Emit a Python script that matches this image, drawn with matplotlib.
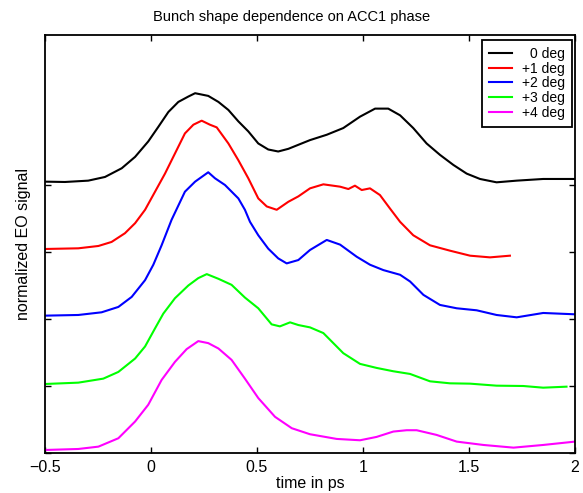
import matplotlib
matplotlib.use("Agg")
import matplotlib.pyplot as plt

plt.rcParams['font.family'] = ['Liberation Sans', 'DejaVu Sans']

labels = ["0 deg", "+1 deg", "+2 deg", "+3 deg", "+4 deg"]
colors = ["#000000", "#ff0000", "#0000ff", "#00ff00", "#ff00ff"]

x0 = [-0.5, -0.406, -0.296, -0.217, -0.138, -0.075, -0.013, 0.035, 0.082, 0.129,
      0.176, 0.208, 0.27, 0.318, 0.365, 0.412, 0.459, 0.506, 0.553, 0.60, 0.648,
      0.695, 0.75, 0.829, 0.907, 0.986, 1.057, 1.119, 1.175, 1.237, 1.30, 1.363,
      1.426, 1.489, 1.552, 1.63, 1.725, 1.85, 2.0]
y0 = [4.05, 4.045, 4.065, 4.12, 4.25, 4.42, 4.65, 4.87, 5.09, 5.24,
      5.32, 5.37, 5.33, 5.24, 5.12, 4.95, 4.80, 4.62, 4.53, 4.50, 4.54,
      4.60, 4.67, 4.75, 4.85, 5.02, 5.14, 5.14, 5.04, 4.85, 4.62, 4.45,
      4.30, 4.17, 4.09, 4.04, 4.065, 4.09, 4.09]

x1 = [-0.5, -0.343, -0.248, -0.186, -0.123, -0.075, -0.028, 0.019, 0.066, 0.113,
      0.16, 0.20, 0.239, 0.278, 0.31, 0.365, 0.412, 0.459, 0.506, 0.546, 0.593,
      0.648, 0.695, 0.75, 0.813, 0.892, 0.931, 0.962, 0.994, 1.033, 1.08, 1.127,
      1.175, 1.237, 1.316, 1.41, 1.505, 1.599, 1.693]
y1 = [3.045, 3.055, 3.09, 3.15, 3.28, 3.43, 3.63, 3.90, 4.17, 4.47,
      4.77, 4.90, 4.96, 4.90, 4.86, 4.62, 4.37, 4.10, 3.80, 3.68, 3.63,
      3.75, 3.83, 3.95, 4.01, 3.975, 3.94, 3.99, 3.925, 3.95, 3.85, 3.65,
      3.45, 3.25, 3.10, 3.02, 2.945, 2.92, 2.945]

x2 = [-0.5, -0.343, -0.233, -0.154, -0.091, -0.028, 0.011, 0.05, 0.097, 0.16,
      0.208, 0.27, 0.302, 0.349, 0.412, 0.443, 0.467, 0.506, 0.553, 0.60, 0.64,
      0.695, 0.75, 0.829, 0.892, 0.97, 1.033, 1.096, 1.175, 1.222, 1.285, 1.363,
      1.442, 1.536, 1.63, 1.725, 1.85, 2.0]
y2 = [2.05, 2.06, 2.10, 2.18, 2.33, 2.58, 2.81, 3.10, 3.48, 3.90,
      4.05, 4.19, 4.10, 4.00, 3.80, 3.63, 3.45, 3.25, 3.05, 2.905, 2.83,
      2.88, 3.03, 3.18, 3.11, 2.93, 2.81, 2.73, 2.66, 2.56, 2.36, 2.21,
      2.16, 2.13, 2.06, 2.025, 2.09, 2.07]

x3 = [-0.5, -0.343, -0.225, -0.154, -0.075, -0.028, 0.019, 0.058, 0.113, 0.176,
      0.223, 0.263, 0.318, 0.38, 0.443, 0.506, 0.569, 0.608, 0.656, 0.695, 0.75,
      0.813, 0.86, 0.907, 0.986, 1.064, 1.143, 1.222, 1.316, 1.41, 1.505, 1.63,
      1.756, 1.85, 1.96]
y3 = [1.03, 1.05, 1.11, 1.21, 1.41, 1.59, 1.86, 2.08, 2.31, 2.50,
      2.61, 2.67, 2.60, 2.51, 2.32, 2.16, 1.92, 1.89, 1.95, 1.91, 1.875,
      1.79, 1.64, 1.49, 1.33, 1.27, 1.22, 1.18, 1.07, 1.04, 1.035, 1.005,
      1.00, 0.975, 0.99]

x4 = [-0.5, -0.343, -0.248, -0.154, -0.075, -0.013, 0.05, 0.113, 0.168, 0.223,
      0.27, 0.318, 0.38, 0.443, 0.506, 0.585, 0.664, 0.75, 0.876, 0.986, 1.064,
      1.143, 1.206, 1.253, 1.347, 1.442, 1.568, 1.71, 1.85, 2.0]
y4 = [0.045, 0.06, 0.095, 0.22, 0.47, 0.72, 1.09, 1.36, 1.55, 1.67,
      1.64, 1.56, 1.39, 1.11, 0.82, 0.54, 0.37, 0.28, 0.21, 0.19, 0.24,
      0.32, 0.34, 0.34, 0.27, 0.17, 0.12, 0.08, 0.12, 0.17]

xs = [x0, x1, x2, x3, x4]
ys = [y0, y1, y2, y3, y4]

xticks = [-0.5, 0, 0.5, 1, 1.5, 2]
xticklabels = ["\u22120.5", "0", "0.5", "1", "1.5", "2"]
yticks = [0, 1, 2, 3, 4]

fig = plt.figure(figsize=(5.83, 4.93), dpi=100)
ax = fig.add_axes([45/583, 40/493, 530/583, 418/493])

for x, y, c, lab in zip(xs, ys, colors, labels):
    ax.plot(x, y, color=c, lw=1.5, label=lab)

ax.set_xlim(-0.5, 2)
ax.set_ylim(0, 418/67)
ax.set_xticks(xticks)
ax.set_xticklabels(xticklabels, fontsize=11.5)
ax.set_yticks(yticks)
ax.set_yticklabels([])
ax.tick_params(direction='in', top=True, right=True, length=4, width=1, pad=5)
for s in ax.spines.values():
    s.set_linewidth(1.3)

ax.set_xlabel("time in ps", fontsize=11.5, labelpad=1)
ax.set_ylabel("normalized EO signal", fontsize=11.5, labelpad=5)
fig.text(0.5, 1 - 17/493, "Bunch shape dependence on ACC1 phase", fontsize=10.5,
         ha='center', va='center')

leg = ax.legend(loc='upper right', fontsize=10, frameon=True, fancybox=False,
                edgecolor='black', framealpha=1, borderpad=0.5, labelspacing=0.05,
                handlelength=1.66, handletextpad=0.75, borderaxespad=0,
                bbox_to_anchor=(0.9943, 0.988))
leg.get_frame().set_linewidth(1.3)

fig.canvas.draw()
texts = leg.get_texts()
widths = [t.get_window_extent().width for t in texts]
mw = max(widths)
for t, w in zip(texts, widths):
    t.set_position((mw - w, 0))

fig.savefig("out.png", dpi=100)
